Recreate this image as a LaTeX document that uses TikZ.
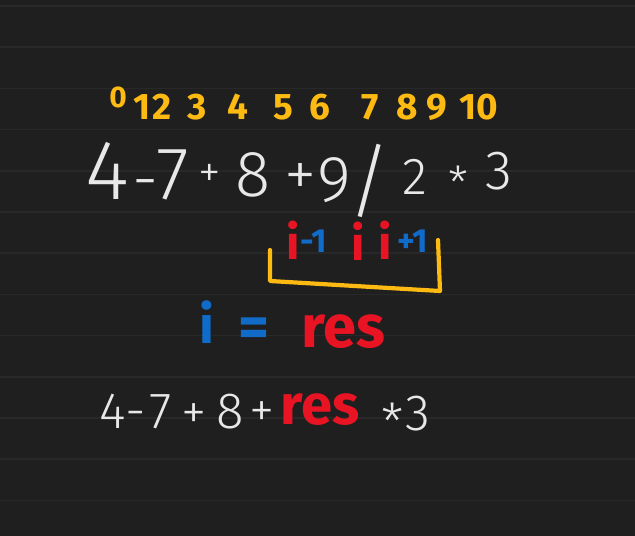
\documentclass[tikz,border=0pt]{standalone}
\usepackage{fontspec}
\setmainfont{Fira Sans}
\newfontfamily\thinhand{Fira Sans Light}
\usepackage{tikz}

\definecolor{board}{RGB}{31,31,31}
\definecolor{ruling}{RGB}{40,40,40}
\definecolor{chalk}{RGB}{232,232,232}
\definecolor{hlyellow}{RGB}{252,186,18}
\definecolor{hlred}{RGB}{232,20,36}
\definecolor{hlblue}{RGB}{16,108,200}

\begin{document}
\begin{tikzpicture}[x=0.02cm, y=-0.02cm,
    idx/.style={text=hlyellow, inner sep=0pt, font=\bfseries\fontsize{21}{21}\selectfont},
    expr/.style={text=chalk, inner sep=0pt, anchor=base, font=\thinhand\fontsize{37}{37}\selectfont},
    smallexpr/.style={text=chalk, inner sep=0pt, anchor=base, font=\thinhand\fontsize{29}{29}\selectfont},
    redmark/.style={text=hlred, inner sep=0pt, font=\bfseries\fontsize{27}{27}\selectfont},
    bluemark/.style={text=hlblue, inner sep=0pt, font=\bfseries\fontsize{19}{19}\selectfont},
    bracket/.style={draw=hlyellow, line width=2.4pt, line cap=round, line join=round}]

    % Page with ruled lines
    \useasboundingbox (0,0) rectangle (635,536);
    \fill[board] (0,0) rectangle (635,536);
    \foreach \k in {0,...,12}
        \draw[ruling, line width=1pt] (0,{6+41.2*\k}) -- (635,{6+41.2*\k});

    % Indices above the expression
    \node[idx, font=\bfseries\fontsize{17}{17}\selectfont] (idx0) at (118,97) {0};
    \foreach \n/\x in {1/142, 2/162, 3/197, 4/238, 5/283, 6/320, 7/370, 8/407, 9/437}
        \node[idx] (idx\n) at (\x,107) {\n};
    \node[idx] (idx10) at (479,107) {10};

    % Expression (x, baseline, scale, glyph)
    \foreach \n/\x/\y/\s/\t in {0/107/200/1.3/4, 1/146/202/1/-, 2/173/200/1.15/7,
        3/210/188/0.7/+, 4/253/197/1/8, 5/301/197/1/+, 6/334/202/1/9,
        7/370/210/1.25/{/}, 8/415/195/0.8/2, 9/458/200/0.7/*, 10/499/190/0.85/3}
        \node[expr, scale=\s] (ch\n) at (\x,\y) {\t};

    % Window around i
    \draw[bracket] (270,250) -- (270,281) -- (440,291) -- (438,240);
    \node[redmark] (iprev) at (293,240) {i};
    \node[bluemark] (mone) at (314,241) {-1};
    \node[redmark] (icur) at (358,241) {i};
    \node[redmark] (inext) at (385,240) {i};
    \node[bluemark] (pone) at (413,241) {+1};

    % i = res
    \node[bluemark, font=\bfseries\fontsize{30}{30}\selectfont] (iblue) at (207,322) {i};
    \node[bluemark, font=\bfseries\fontsize{34}{34}\selectfont] (eq) at (254,333) {=};
    \node[redmark, font=\bfseries\fontsize{34}{34}\selectfont] (res) at (343,332) {res};

    % Reduced expression
    \foreach \n/\x/\y/\t in {0/113/428/4, 1/136/428/-, 2/161/428/7, 3/194/429/+,
        4/230/428/8, 5/262/427/+, 6/393/440/*, 7/418/430/3}
        \node[smallexpr] (rd\n) at (\x,\y) {\t};
    \node[redmark, font=\bfseries\fontsize{32}{32}\selectfont] (resb) at (320,410) {res};

\end{tikzpicture}
\end{document}
